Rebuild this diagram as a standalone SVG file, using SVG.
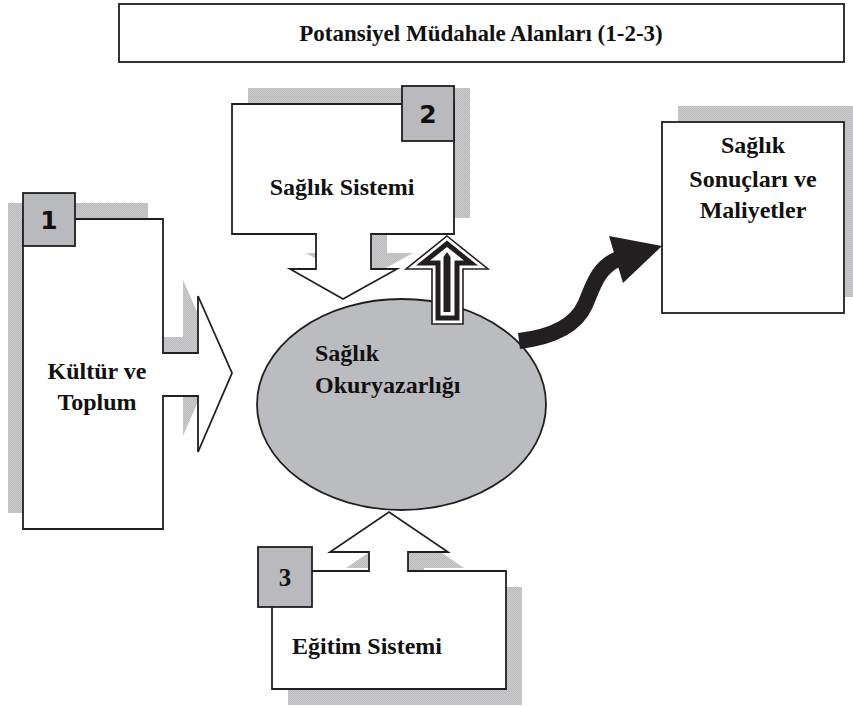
<svg xmlns="http://www.w3.org/2000/svg" width="853" height="707" viewBox="0 0 853 707">
<defs>
<pattern id="dither" width="2" height="2" patternUnits="userSpaceOnUse">
<rect width="2" height="2" fill="#cacacc"/>
<rect width="1" height="1" fill="#bcbcbe"/>
<rect x="1" y="1" width="1" height="1" fill="#bcbcbe"/>
</pattern>
<style>
.shadow{fill:url(#dither);stroke:none}
.box{fill:#ffffff;stroke:#231f20;stroke-width:1.8}
.num{fill:#b9babe;stroke:#231f20;stroke-width:1.8}
.lbl{font-family:"Liberation Serif","Times New Roman",serif;font-weight:bold;font-size:24px;fill:#111}
.digit{font-family:"DejaVu Sans",Verdana,sans-serif;font-weight:bold;font-size:25px;fill:#111;text-anchor:middle}
</style>
</defs>
<rect width="853" height="707" fill="#ffffff"/>

<g id="title">
<rect x="119" y="4" width="725" height="58" class="box"/>
<text x="481" y="41" class="lbl" text-anchor="middle" style="font-size:23px">Potansiyel Müdahale Alanları (1-2-3)</text>
</g>

<g id="kultur">
<path class="shadow" transform="translate(-15,-16)" d="M23,219 H163 V353 H198 V296 L232,373 L198,452 V396 H163 V529 H23 Z"/>
<path class="box" d="M23,219 H163 V353 H198 V296 L232,373 L198,452 V396 H163 V529 H23 Z"/>
<rect class="num" x="23" y="193" width="52" height="53"/>
<text class="digit" x="49" y="229">1</text>
<text class="lbl" x="97" y="379" text-anchor="middle">Kültür ve</text>
<text class="lbl" x="97" y="410" text-anchor="middle">Toplum</text>
</g>

<g id="saglik-sistemi">
<path class="shadow" transform="translate(16,-16)" d="M232,104 H454 V234 H371 V269 H397 L343,299 L290,269 H316 V234 H232 Z"/>
<path class="box" d="M232,104 H454 V234 H371 V269 H397 L343,299 L290,269 H316 V234 H232 Z"/>
<rect class="num" x="402" y="86" width="52" height="55"/>
<text class="digit" x="428" y="123">2</text>
<text class="lbl" x="342" y="195" text-anchor="middle">Sağlık Sistemi</text>
</g>

<g id="egitim-sistemi">
<path class="shadow" transform="translate(16,16)" d="M272,571 H369 V552 H330 L389,512 L448,552 H408 V571 H506 V689 H272 Z"/>
<path class="box" d="M272,571 H369 V552 H330 L389,512 L448,552 H408 V571 H506 V689 H272 Z"/>
<rect class="num" x="258" y="547" width="54" height="60"/>
<text class="lbl" x="285" y="586" text-anchor="middle" style="font-size:25px">3</text>
<text class="lbl" x="367" y="654" text-anchor="middle">Eğitim Sistemi</text>
</g>

<g id="sonuclar">
<rect class="shadow" x="678" y="106" width="182" height="191"/>
<rect class="box" x="662" y="122" width="182" height="191"/>
<text class="lbl" x="753" y="153" text-anchor="middle">Sağlık</text>
<text class="lbl" x="753" y="187" text-anchor="middle">Sonuçları ve</text>
<text class="lbl" x="753" y="218" text-anchor="middle">Maliyetler</text>
</g>

<g id="okuryazarlik">
<ellipse cx="401.5" cy="404.5" rx="144.5" ry="105.5" fill="#bbbcc0" stroke="#231f20" stroke-width="1.8"/>
<text class="lbl" x="315" y="361">Sağlık</text>
<text class="lbl" x="315" y="393">Okuryazarlığı</text>
</g>

<g id="connectors">
<g id="up-arrow">
<polygon points="447,236 488,269 463,269 463,324 432,324 432,269 406,269" fill="#ffffff" stroke="#231f20" stroke-width="1.6"/>
<polygon points="447,240.5 478,265.5 459.5,265.5 459.5,320.5 435.5,320.5 435.5,265.5 416,265.5" fill="#231f20"/>
<polygon points="447,247 464,260.5 454.5,260.5 454.5,315.5 440.5,315.5 440.5,260.5 430,260.5" fill="#ffffff"/>
<polygon points="447,252 450.5,257 450.5,312 443.5,312 443.5,257" fill="#231f20"/>
</g>
<g id="curved-arrow">
<path d="M519,341 C552,337 576,325 585,305 C593,287 597,268 618,259" fill="none" stroke="#231f20" stroke-width="16"/>
<polygon points="609,236 662,246 623,283" fill="#231f20"/>
</g>
</g>
</svg>
